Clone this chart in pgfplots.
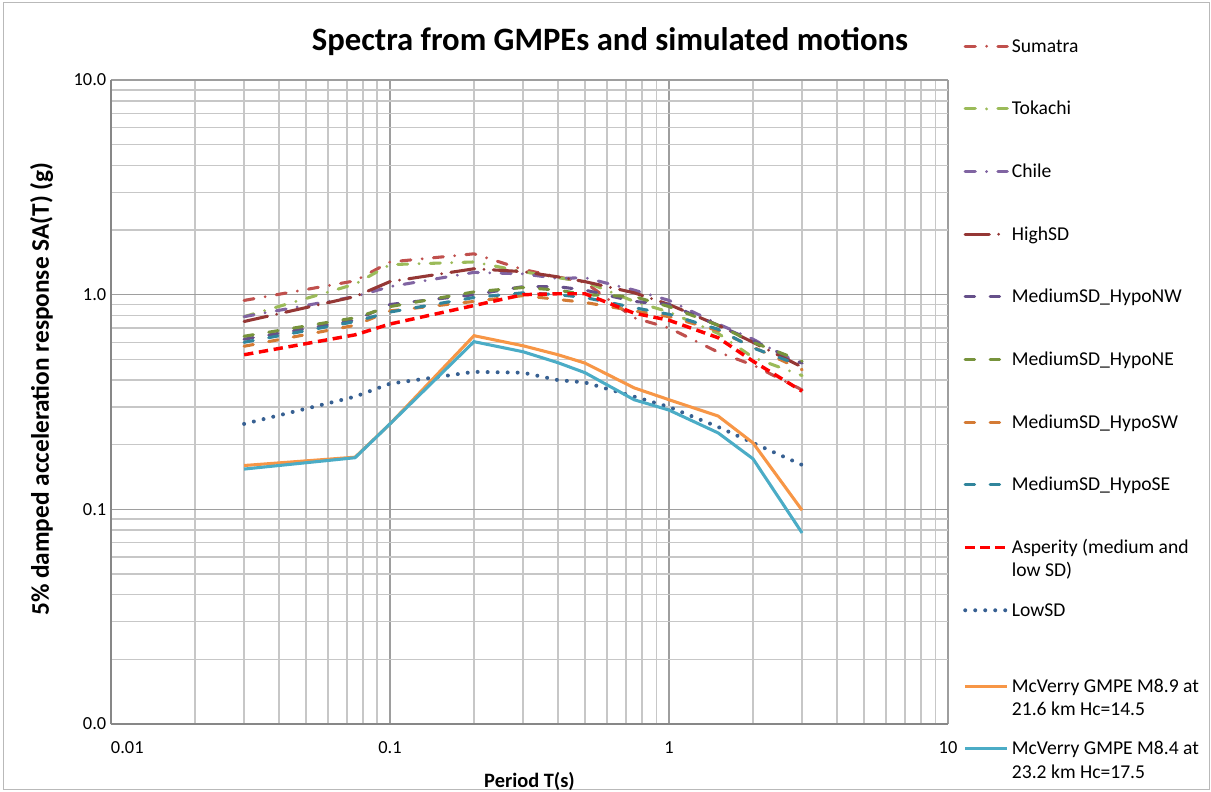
\documentclass[border=0pt]{standalone}
\usepackage{pgfplots}
\pgfplotsset{compat=1.18}
\usepackage{pgfplotstable}
\usepackage{fontspec}
\setmainfont{Carlito}

\definecolor{cSum}{HTML}{C0504D}
\definecolor{cTok}{HTML}{9BBB59}
\definecolor{cChi}{HTML}{8064A2}
\definecolor{cHigh}{HTML}{953735}
\definecolor{cNW}{HTML}{66508A}
\definecolor{cNE}{HTML}{77933C}
\definecolor{cSW}{HTML}{D47B35}
\definecolor{cSE}{HTML}{31859C}
\definecolor{cAsp}{HTML}{FF0000}
\definecolor{cLow}{HTML}{376092}
\definecolor{cMcA}{HTML}{F79646}
\definecolor{cMcB}{HTML}{4BACC6}

% period T(s) and SA(T) (g) for each spectrum
\pgfplotstableread{
T     Sum   Tok   Chi   High  NW    NE    SW    SE    Asp   Low   McA   McB
0.03  0.94  0.79  0.79  0.75  0.62  0.64  0.575 0.60  0.525 0.250 0.160 0.154
0.075 1.16  1.12  0.98  0.98  0.76  0.78  0.72  0.75  0.65  0.335 0.175 0.174
0.1   1.42  1.38  1.09  1.15  0.90  0.88  0.84  0.83  0.73  0.385 0.250 0.250
0.2   1.55  1.42  1.27  1.32  1.00  1.03  0.93  0.97  0.89  0.437 0.644 0.604
0.3   1.31  1.28  1.25  1.28  1.09  1.08  0.99  1.02  1.00  0.433 0.578 0.542
0.4   1.21  1.20  1.19  1.21  1.09  1.05  0.95  1.00  1.01  0.400 0.525 0.482
0.5   1.14  1.15  1.20  1.15  1.05  1.00  0.92  0.97  1.01  0.390 0.480 0.433
0.75  0.78  0.93  1.05  1.02  0.93  0.98  0.84  0.87  0.82  0.335 0.368 0.324
1     0.70  0.83  0.94  0.90  0.90  0.88  0.79  0.81  0.76  0.300 0.324 0.290
1.5   0.54  0.66  0.73  0.72  0.72  0.72  0.68  0.69  0.63  0.242 0.272 0.227
2     0.47  0.51  0.62  0.60  0.61  0.60  0.57  0.565 0.49  0.204 0.204 0.172
3     0.36  0.42  0.47  0.46  0.48  0.49  0.447 0.466 0.355 0.161 0.099 0.0776
}\spectra

\tikzset{
  dashdotS/.style={line width=2.3pt, line cap=round, dash pattern=on 7.5pt off 8.5pt on 0pt off 8.5pt},
  dashdotL/.style={line width=2.3pt, line cap=round, dash pattern=on 18pt off 7pt on 0pt off 7pt},
  longdash/.style={line width=2.3pt, line cap=round, dash pattern=on 7pt off 11.75pt},
  shortdash/.style={line width=2.6pt, dash pattern=on 7pt off 4.25pt},
  rounddot/.style={line width=3pt, line cap=round, dash pattern=on 0pt off 7.5pt},
  solidser/.style={line width=2.3pt},
}
\newcommand{\twoline}[2]{\begin{tabular}[t]{@{}l@{}}#1\\#2\end{tabular}}

\begin{document}
\begin{tikzpicture}[x=0.75pt,y=0.75pt]
\useasboundingbox (0,0) rectangle (1211,792);
\draw[gray!55, line width=0.75pt] (3,2) rectangle (1209,789);
\node[font=\bfseries\fontsize{24.5}{29}\selectfont] at (610,750) {Spectra from GMPEs and simulated motions};
\begin{axis}[
  at={(83.25pt,51pt)}, anchor=south west,
  width=627.75pt, height=483pt, scale only axis,
  xmode=log, ymode=log,
  xmin=0.01, xmax=10, ymin=0.01, ymax=10,
  axis lines=left,
  axis line style={draw=black!47, line width=1.1pt, -},
  xtick={0.01,0.1,1,10}, xticklabels={\makebox[0pt][l]{0.01},0.1,1,10},
  ytick={0.01,0.1,1,10}, yticklabels={0.0,0.1,1.0,10.0},
  major tick length=0pt, minor tick length=0pt,
  tick label style={font=\fontsize{13.8}{16}\selectfont},
  xticklabel style={yshift=-10pt},
  xminorgrids=true, yminorgrids=true, xmajorgrids=true, ymajorgrids=true,
  major grid style={draw=black!38, line width=1.1pt},
  minor grid style={draw=black!22, line width=1.1pt},
  xlabel={Period T(s)}, ylabel={5\% damped acceleration response SA(T) (g)},
  xlabel style={font=\bfseries\fontsize{15.3}{18}\selectfont,
    at={(axis description cs:0.5,-0.089)}, anchor=center},
  ylabel style={font=\bfseries\fontsize{19}{22}\selectfont,
    at={(axis description cs:-0.083,0.52)}, anchor=center},
  clip=false,
  legend style={at={(1.0131,1.0766)}, anchor=north west, draw=none, fill=none,
    font=\fontsize{14.7}{17.5}\selectfont, row sep=30.5pt, inner sep=3pt,
    cells={anchor=base west, text height=11pt, text depth=3.5pt, inner sep=2pt}},
  legend image code/.code={\draw[#1] (0pt,4.5pt) -- (31.5pt,4.5pt);},
]
\addplot[cSum, dashdotS] table[x=T, y=Sum] {\spectra};
\addlegendentry{Sumatra}
\addplot[cTok, dashdotS] table[x=T, y=Tok] {\spectra};
\addlegendentry{Tokachi}
\addplot[cChi, dashdotS] table[x=T, y=Chi] {\spectra};
\addlegendentry{Chile}
\addplot[cHigh, dashdotL] table[x=T, y=High] {\spectra};
\addlegendentry{HighSD}
\addplot[cNW, longdash] table[x=T, y=NW] {\spectra};
\addlegendentry{MediumSD\_HypoNW}
\addplot[cNE, longdash] table[x=T, y=NE] {\spectra};
\addlegendentry{MediumSD\_HypoNE}
\addplot[cSW, longdash] table[x=T, y=SW] {\spectra};
\addlegendentry{MediumSD\_HypoSW}
\addplot[cSE, longdash] table[x=T, y=SE] {\spectra};
\addlegendentry{MediumSD\_HypoSE}
\addplot[cAsp, shortdash] table[x=T, y=Asp] {\spectra};
\addlegendentry{\twoline{Asperity (medium and}{low SD)}}
\addplot[cLow, rounddot] table[x=T, y=Low] {\spectra};
\addlegendentry{LowSD}
\addplot[cMcA, solidser] table[x=T, y=McA] {\spectra};
\addlegendentry[text height=21pt]{\twoline{McVerry GMPE M8.9 at}{21.6 km Hc=14.5}}
\addplot[cMcB, solidser] table[x=T, y=McB] {\spectra};
\addlegendentry{\twoline{McVerry GMPE M8.4 at}{23.2 km Hc=17.5}}
\end{axis}
\end{tikzpicture}
\end{document}
